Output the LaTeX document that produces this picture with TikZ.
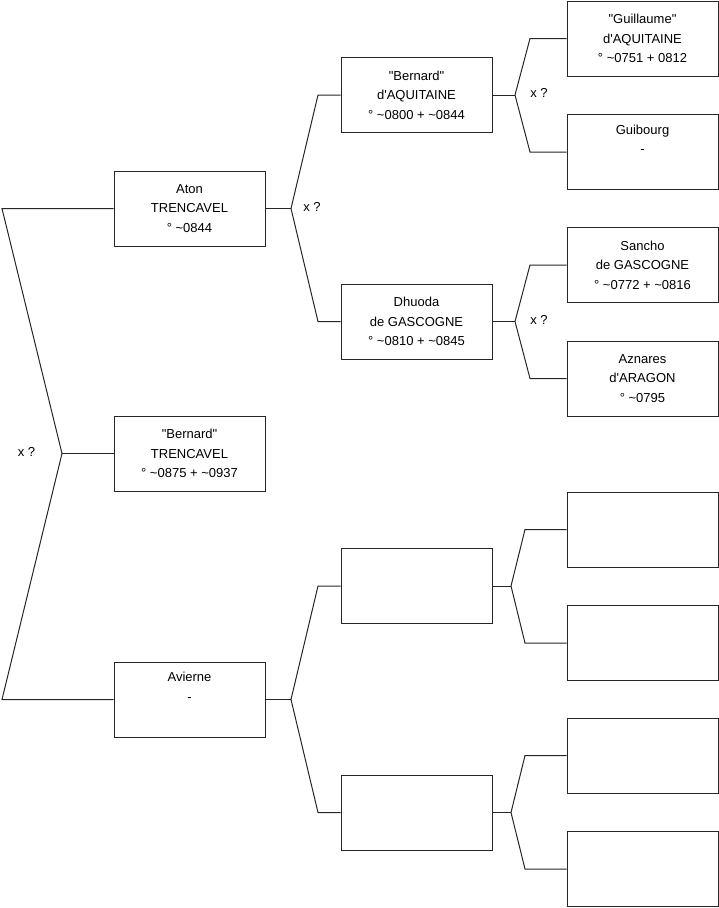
\documentclass[tikz,border=0pt]{standalone}
\usepackage{fontspec}
\setmainfont{Liberation Sans}
\newcommand{\dq}{\textquotedbl}
\newcommand{\sq}{\textquotesingle}
\begin{document}
\begin{tikzpicture}[x=1pt,y=-1pt,
  person/.style={draw=black!85, line width=1pt, minimum width=151pt, minimum height=75pt,
    align=center, font=\fontsize{13}{19.5}\selectfont, inner sep=0pt},
  link/.style={line width=1pt, draw=black!85},
  lbl/.style={font=\fontsize{13}{15}\selectfont, inner sep=0pt}]
\useasboundingbox (0,0) rectangle (719,908);
% level 1
\node[person] (aton) at (189.5,208.5) {Aton\\TRENCAVEL\\° \textasciitilde0844};
\node[person] (bt) at (189.5,453.5) {\dq Bernard\dq\\TRENCAVEL\\° \textasciitilde0875 + \textasciitilde0937};
\node[person] (av) at (189.5,699.5) {Avierne\\-\\\strut};
% level 2
\node[person] (ba) at (416.5,95) {\dq Bernard\dq\\d\sq AQUITAINE\\° \textasciitilde0800 + \textasciitilde0844};
\node[person] (dh) at (416.5,321.5) {Dhuoda\\de GASCOGNE\\° \textasciitilde0810 + \textasciitilde0845};
\node[person] (e1) at (416.5,586) {};
\node[person] (e2) at (416.5,812.5) {};
% level 3
\node[person] (gu) at (642.5,38.5) {\dq Guillaume\dq\\d\sq AQUITAINE\\° \textasciitilde0751 + 0812};
\node[person] (gb) at (642.5,152) {Guibourg\\-\\\strut};
\node[person] (sa) at (642.5,265) {Sancho\\de GASCOGNE\\° \textasciitilde0772 + \textasciitilde0816};
\node[person] (az) at (642.5,378.5) {Aznares\\d\sq ARAGON\\° \textasciitilde0795};
\node[person] (e3) at (642.5,529.5) {};
\node[person] (e4) at (642.5,643) {};
\node[person] (e5) at (642.5,755.5) {};
\node[person] (e6) at (642.5,869) {};
% junctions
\coordinate (j0) at (62,453.5);
\coordinate (j0a) at (2,208.5);
\coordinate (j0b) at (2,699.5);
\coordinate (j1) at (291,208.5);
\coordinate (j1a) at (318,95);
\coordinate (j1b) at (318,321.5);
\coordinate (j2) at (291,699.5);
\coordinate (j2a) at (318,586);
\coordinate (j2b) at (318,812.5);
\coordinate (j3) at (515,95);
\coordinate (j3a) at (530,38.5);
\coordinate (j3b) at (530,152);
\coordinate (j4) at (515,321.5);
\coordinate (j4a) at (530,265);
\coordinate (j4b) at (530,378.5);
\coordinate (j5) at (511,586);
\coordinate (j5a) at (525,529.5);
\coordinate (j5b) at (525,643);
\coordinate (j6) at (511,812.5);
\coordinate (j6a) at (525,755.5);
\coordinate (j6b) at (525,869);
% connectors
\draw[link] (bt.west) -- (j0);
\draw[link] (j0) -- (j0a) -- (aton.west);
\draw[link] (j0) -- (j0b) -- (av.west);
\draw[link] (aton.east) -- (j1);
\draw[link] (j1) -- (j1a) -- (ba.west);
\draw[link] (j1) -- (j1b) -- (dh.west);
\draw[link] (av.east) -- (j2);
\draw[link] (j2) -- (j2a) -- (e1.west);
\draw[link] (j2) -- (j2b) -- (e2.west);
\draw[link] (ba.east) -- (j3);
\draw[link] (j3) -- (j3a) -- (gu.west);
\draw[link] (j3) -- (j3b) -- (gb.west);
\draw[link] (dh.east) -- (j4);
\draw[link] (j4) -- (j4a) -- (sa.west);
\draw[link] (j4) -- (j4b) -- (az.west);
\draw[link] (e1.east) -- (j5);
\draw[link] (j5) -- (j5a) -- (e3.west);
\draw[link] (j5) -- (j5b) -- (e4.west);
\draw[link] (e2.east) -- (j6);
\draw[link] (j6) -- (j6a) -- (e5.west);
\draw[link] (j6) -- (j6b) -- (e6.west);
% labels
\node[lbl] (x0) at (26.5,452) {x ?};
\node[lbl] (x1) at (312,207) {x ?};
\node[lbl] (x3) at (539,93) {x ?};
\node[lbl] (x4) at (539,320) {x ?};
\end{tikzpicture}
\end{document}
